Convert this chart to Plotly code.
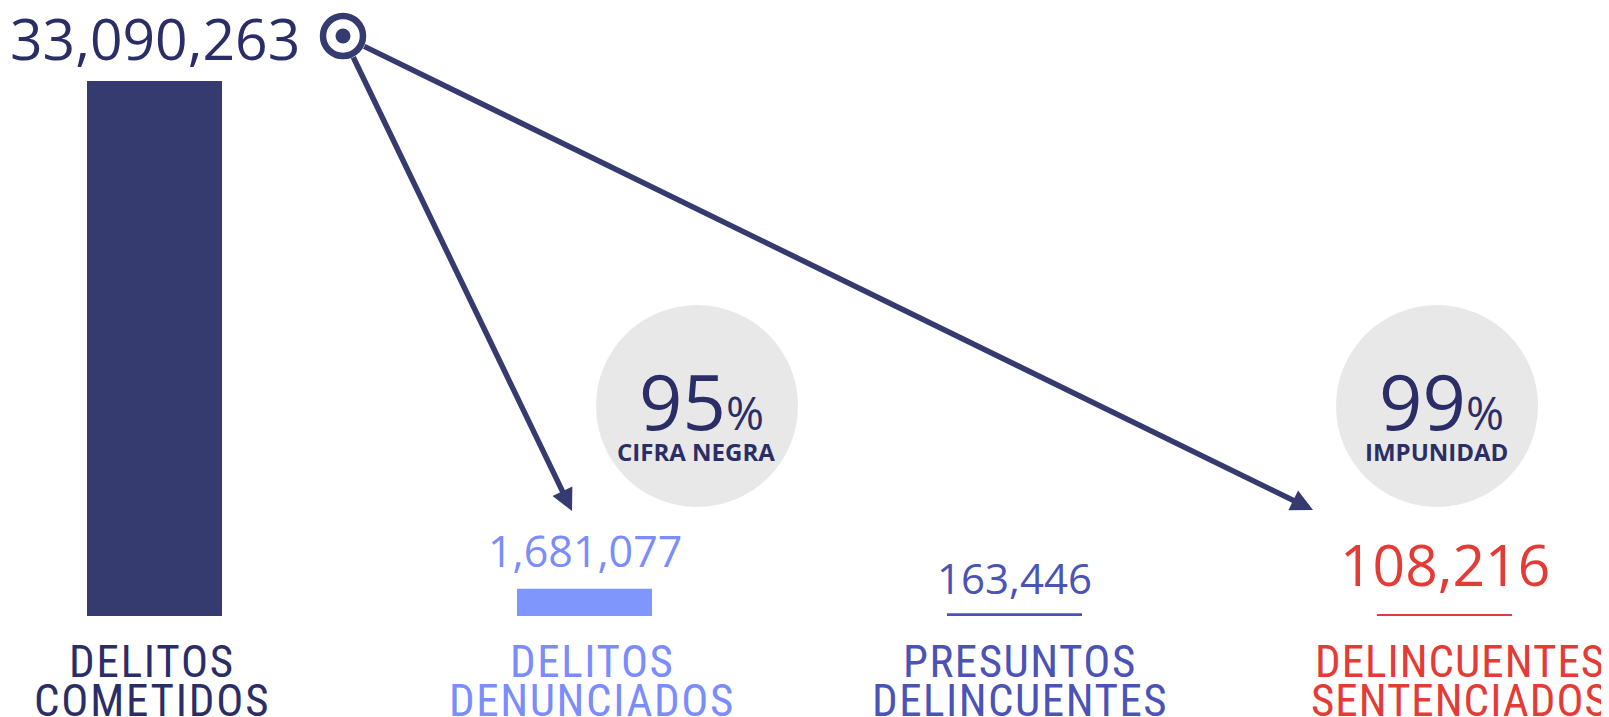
import plotly.graph_objects as go

# data
cat_line1 = ["DELITOS", "DELITOS", "PRESUNTOS", "DELINCUENTES"]
cat_line2 = ["COMETIDOS", "DENUNCIADOS", "DELINCUENTES", "SENTENCIADOS"]
values = [33090263, 1681077, 163446, 108216]
value_labels = ["33,090,263", "1,681,077", "163,446", "108,216"]
pct_values = ["95", "99"]
pct_labels = ["CIFRA NEGRA", "IMPUNIDAD"]

NAVY = "#353a6f"
NAVY_TXT = "#2b2e66"
bar_colors = [NAVY, "#7f96fd", "#4b53b6", "#e53b36"]
label_colors = [NAVY_TXT, "#7b8dfc", "#4b53b6", "#e53b36"]

W, H = 1609, 717
PAGE_PAD = 8  # default body margin of the html page
# pixel layout (page coords) of the category axis / value axis
X0_PX, STEP_PX = 154.5, 430.0
BASE_PX, TOP_PX = 616.0, 81.0
V0 = values[0]


def xd(px):
    return (px - X0_PX) / STEP_PX


def yd(py):
    return (BASE_PX - py) / (BASE_PX - TOP_PX) * V0


NUM_FONT = "Open Sans"
LBL_FONT = "Roboto Condensed, Roboto, sans-serif"

fig = go.Figure()
fig.add_trace(go.Bar(
    x=list(range(len(values))), y=values, width=0.314,
    marker=dict(color=bar_colors, line=dict(width=0)),
    hoverinfo="skip",
))

shapes = []
annotations = []

# grey background circles behind the percentages
circle_px = [(697, 406), (1437, 406)]
for (cx, cy) in circle_px:
    shapes.append(dict(type="circle", xref="x", yref="y", layer="below",
                       xsizemode="pixel", ysizemode="pixel",
                       xanchor=xd(cx), yanchor=yd(cy),
                       x0=-101, x1=101, y0=-101, y1=101,
                       fillcolor="#e8e8e8", line=dict(width=0)))

# value labels above bars
val_label_y = [38, 550, 577, 564]
val_sizes = [57, 43, 42, 57]
for i, txt in enumerate(value_labels):
    annotations.append(dict(x=i, y=yd(val_label_y[i]), text=txt, showarrow=False,
                            xanchor="center", yanchor="middle",
                            font=dict(family=NUM_FONT, size=val_sizes[i], color=label_colors[i])))

# category labels under the axis (two lines each, letter-spaced)
lbl_shift = [-3, 7, 5, 15]
lbl_spacing = [1.8, 1.6, 1.5, 1.0]
for i in range(len(values)):
    for txt, ly in [(cat_line1[i], 661), (cat_line2[i], 700)]:
        annotations.append(dict(x=i, y=yd(ly), showarrow=False, xshift=lbl_shift[i],
                                text="<span style='letter-spacing:%.1fpx'>%s</span>" % (lbl_spacing[i], txt),
                                xanchor="center", yanchor="middle",
                                font=dict(family=LBL_FONT, size=45, color=label_colors[i])))

# percentage badges
for (cx, cy), p, lab in zip(circle_px, pct_values, pct_labels):
    annotations.append(dict(x=xd(cx + 4), y=yd(400), showarrow=False,
                            text=p + "<span style='font-size:46px'>%</span>",
                            xanchor="center", yanchor="middle",
                            font=dict(family=NUM_FONT, size=76, color=NAVY_TXT)))
    annotations.append(dict(x=xd(cx - 1), y=yd(451), showarrow=False, text="<b>" + lab + "</b>",
                            xanchor="center", yanchor="middle",
                            font=dict(family=NUM_FONT, size=24, color=NAVY_TXT)))

# target marker next to the first value
tx, ty = xd(343), yd(36)
fig.add_trace(go.Scatter(x=[tx], y=[ty], mode="markers", hoverinfo="skip",
                         marker=dict(symbol="circle-open", size=40, color=NAVY,
                                     line=dict(width=6.5, color=NAVY))))
fig.add_trace(go.Scatter(x=[tx], y=[ty], mode="markers", hoverinfo="skip",
                         marker=dict(symbol="circle", size=15, color=NAVY)))

# arrows from the target to the reported / sentenced figures
for tip in [(572, 511), (1313, 510)]:
    annotations.append(dict(x=xd(tip[0]), y=yd(tip[1]), ax=tx, ay=ty,
                            axref="x", ayref="y", xref="x", yref="y", text="",
                            showarrow=True, arrowhead=2, arrowsize=0.8, arrowwidth=5.5,
                            arrowcolor=NAVY, startstandoff=22, standoff=0))

fig.update_layout(
    width=W, height=H,
    margin=dict(l=0, r=0, t=0, b=0),
    paper_bgcolor="white", plot_bgcolor="white",
    showlegend=False,
    shapes=shapes, annotations=annotations,
    # shift the axes so page pixels line up despite the body margin
    xaxis=dict(range=[xd(PAGE_PAD), xd(W + PAGE_PAD)], visible=False, fixedrange=True),
    yaxis=dict(range=[yd(H + PAGE_PAD), yd(PAGE_PAD)], visible=False, fixedrange=True),
)

fig.write_html("out.html", config=dict(displayModeBar=False))
